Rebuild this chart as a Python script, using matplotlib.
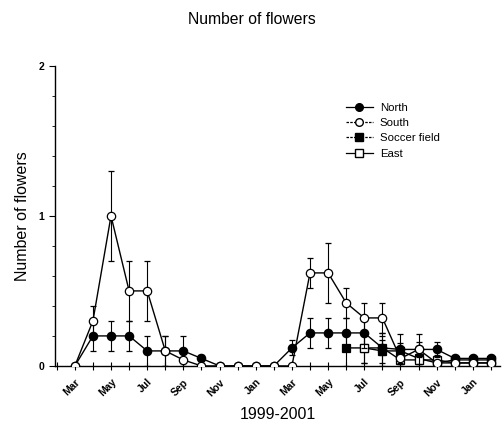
import matplotlib
matplotlib.use("Agg")
import matplotlib.pyplot as plt
import numpy as np
from matplotlib.lines import Line2D

plt.rcParams['font.family'] = ['Liberation Sans', 'DejaVu Sans']

# Months from Mar 1999 (index 0) to Feb 2001 (index 23)
months = list(range(24))
tick_labels = ["Mar", "May", "Jul", "Sep", "Nov", "Jan", "Mar", "May", "Jul", "Sep", "Nov", "Jan"]

north = [0, 0.2, 0.2, 0.2, 0.1, 0.1, 0.1, 0.05, 0, 0, 0, 0,
         0.12, 0.22, 0.22, 0.22, 0.22, 0.12, 0.11, 0.11, 0.11, 0.05, 0.05, 0.05]
north_err = [0, 0.1, 0.1, 0.1, 0.1, 0.1, 0.1, 0.02, 0, 0, 0, 0,
             0.05, 0.1, 0.1, 0.1, 0.1, 0.05, 0.1, 0.05, 0.05, 0.02, 0.02, 0.02]

south = [0, 0.3, 1.0, 0.5, 0.5, 0.1, 0.04, 0, 0, 0, 0, 0,
         0, 0.62, 0.62, 0.42, 0.32, 0.32, 0.05, 0.11, 0.02, 0.02, 0.02, 0.02]
south_err = [0, 0.1, 0.3, 0.2, 0.2, 0.1, 0.02, 0, 0, 0, 0, 0,
             0, 0.1, 0.2, 0.1, 0.1, 0.1, 0.03, 0.1, 0.02, 0.01, 0.01, 0.01]

soccer_months = [15, 16, 17, 18, 19, 20, 21, 22, 23]
soccer = [0.12, 0.12, 0.1, 0.1, 0.05, 0.02, 0.04, 0.04, 0.04]
soccer_err = [0.12, 0.1, 0.1, 0.05, 0.03, 0.02, 0.01, 0.01, 0.01]

east_months = [16, 17, 18, 19, 20, 21, 22, 23]
east = [0.12, 0.12, 0.04, 0.04, 0.04, 0.02, 0.02, 0.02]
east_err = [0.1, 0.1, 0.04, 0.04, 0.03, 0.01, 0.01, 0.01]

fig = plt.figure(figsize=(5.04, 4.25), dpi=100)
ax = fig.add_axes([0.109, 0.139, 0.883, 0.706])

common = dict(color='black', lw=1.0, elinewidth=0.8, capsize=2.5, capthick=0.8, ms=6,
              mec='black', mew=0.9)
ax.errorbar(soccer_months, soccer, yerr=soccer_err, fmt='-s', mfc='black', zorder=3, **common)
ax.errorbar(east_months, east, yerr=east_err, fmt='-s', mfc='white', zorder=4, **common)
ax.errorbar(months, north, yerr=north_err, fmt='-o', mfc='black', zorder=5, **common)
ax.errorbar(months, south, yerr=south_err, fmt='-o', mfc='white', zorder=6, **common)

ax.set_xlim(-1.1, 23.5)
ax.set_ylim(0, 2)
ax.spines['top'].set_visible(False)
ax.spines['right'].set_visible(False)
ax.spines['left'].set_linewidth(1.0)
ax.spines['bottom'].set_linewidth(1.0)

ax.set_yticks([0, 1, 2])
ax.set_yticklabels(["0", "1", "2"], fontsize=7.5, fontweight='bold')
ax.set_yticks(np.arange(0, 2.01, 0.2), minor=True)
ax.set_xticks(months[::2])
ax.set_xticklabels(tick_labels, rotation=45, ha='right', va='top',
                   rotation_mode='anchor', fontsize=7.5, fontweight='bold')
ax.set_xticks([-1] + months[1::2], minor=True)
ax.tick_params(axis='y', which='major', length=4, width=0.8, direction='out')
ax.tick_params(axis='y', which='minor', length=2, width=0.6, direction='out')
ax.tick_params(axis='x', which='both', length=6, width=0.8, direction='inout', pad=5)

ax.set_ylabel("Number of flowers", fontsize=11.5, labelpad=6)
ax.set_xlabel("1999-2001", fontsize=11.5, labelpad=6)
fig.text(0.5, 0.955, "Number of flowers", ha='center', va='center', fontsize=11.3)

handles = [
    Line2D([0], [0], color='black', lw=0.9, ls='-', marker='o', mfc='black', mec='black', ms=5.5),
    Line2D([0], [0], color='black', lw=0.9, ls=(0, (2, 1)), marker='o', mfc='white', mec='black', ms=5.5),
    Line2D([0], [0], color='black', lw=0.9, ls=(0, (2, 1)), marker='s', mfc='black', mec='black', ms=5.5),
    Line2D([0], [0], color='black', lw=0.9, ls='-', marker='s', mfc='white', mec='black', ms=5.5),
]
ax.legend(handles, ["North", "South", "Soccer field", "East"], loc='upper left',
          bbox_to_anchor=(0.63, 0.91), frameon=False, fontsize=8.2, handlelength=2.4,
          handletextpad=0.6, labelspacing=0.45)

fig.savefig("out.png", dpi=100)
